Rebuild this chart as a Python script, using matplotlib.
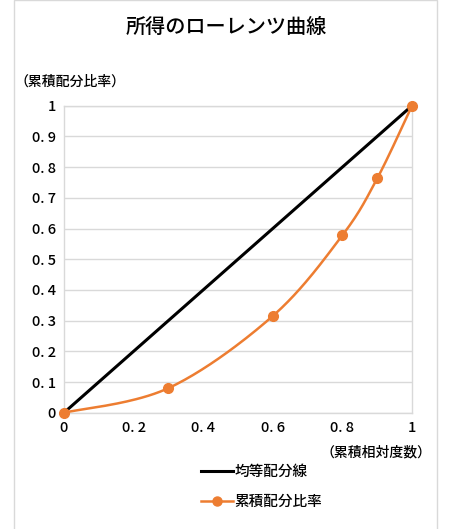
import numpy as np
import matplotlib
matplotlib.use("Agg")
import matplotlib.pyplot as plt
from matplotlib.patches import Rectangle
from matplotlib.lines import Line2D

plt.rcParams['font.family'] = ['Noto Sans CJK JP', 'DejaVu Sans']
plt.rcParams['font.weight'] = 'medium'

# data
cum_freq = [0, 0.3, 0.6, 0.8, 0.9, 1]
cum_share = [0, 0.08, 0.315, 0.578, 0.763, 1]
equal_x = [0, 1]
equal_y = [0, 1]
xticks = [0, 0.2, 0.4, 0.6, 0.8, 1]
xtick_labels = ["0", "0. 2", "0. 4", "0. 6", "0. 8", "1"]
yticks = [0, 0.1, 0.2, 0.3, 0.4, 0.5, 0.6, 0.7, 0.8, 0.9, 1]
ytick_labels = ["0", "0. 1", "0. 2", "0. 3", "0. 4", "0. 5", "0. 6", "0. 7", "0. 8", "0. 9", "1"]


def smooth(xs, ys, n=40):
    # Excel-like smoothed line: Catmull-Rom bezier through the points
    xs = np.asarray(xs, float)
    ys = np.asarray(ys, float)
    px = np.concatenate([[xs[0]], xs, [xs[-1]]])
    py = np.concatenate([[ys[0]], ys, [ys[-1]]])
    outx, outy = [], []
    t = np.linspace(0, 1, n)
    for i in range(1, len(px) - 2):
        p0 = np.array([px[i], py[i]])
        p3 = np.array([px[i + 1], py[i + 1]])
        p1 = p0 + (np.array([px[i + 1], py[i + 1]]) - np.array([px[i - 1], py[i - 1]])) / 6
        p2 = p3 - (np.array([px[i + 2], py[i + 2]]) - np.array([px[i], py[i]])) / 6
        b = (((1 - t) ** 3)[:, None] * p0 + (3 * (1 - t) ** 2 * t)[:, None] * p1
             + (3 * (1 - t) * t ** 2)[:, None] * p2 + (t ** 3)[:, None] * p3)
        outx.extend(b[:, 0])
        outy.extend(b[:, 1])
    return outx, outy


orange = "#ED7D31"
grid = "#D9D9D9"

fig = plt.figure(figsize=(4.74, 5.29), dpi=100)
fig.patches.append(Rectangle((14 / 474, -0.01), (437 - 14) / 474, 1.0095,
                             transform=fig.transFigure, fill=False,
                             edgecolor="#D9D9D9", linewidth=1))

ax = fig.add_axes([64 / 474, 1 - 412.7 / 529, (412 - 64) / 474, (412.7 - 105.7) / 529])
ax.set_xlim(0, 1)
ax.set_ylim(0, 1)
ax.set_yticks(yticks)
ax.set_yticklabels(ytick_labels)
ax.set_xticks(xticks)
ax.set_xticklabels(xtick_labels)
ax.tick_params(length=0, labelsize=10.5, colors="#000000", pad=6)
ax.grid(axis="y", color=grid, linewidth=1)
ax.set_axisbelow(True)
for s in ax.spines.values():
    s.set_color(grid)
    s.set_linewidth(1)

ax.plot(equal_x, equal_y, color="black", linewidth=2.2, solid_capstyle="butt", zorder=3)
sx, sy = smooth(cum_freq, cum_share)
ax.plot(sx, sy, color=orange, linewidth=1.8, zorder=4)
ax.plot(cum_freq, cum_share, "o", color=orange, markersize=7, zorder=5, clip_on=False)

fig.text(226 / 474, 1 - 27 / 529, "所得のローレンツ曲線", ha="center", va="center", fontsize=14.5)
fig.text(14 / 474, 1 - 82 / 529, "（累積配分比率）", ha="left", va="center", fontsize=10)
fig.text(432 / 474, 1 - 452 / 529, "（累積相対度数）", ha="right", va="center", fontsize=10)

handles = [Line2D([], [], color="black", linewidth=2.2),
           Line2D([], [], color=orange, linewidth=1.8, marker="o", markersize=6.5)]
fig.legend(handles, ["均等配分線", "累積配分比率"], loc="upper left",
           bbox_to_anchor=(188 / 474, 1 - 452 / 529), frameon=False,
           fontsize=10.5, handlelength=2.2, handletextpad=0.1, labelspacing=1.1)

fig.savefig("out.png", dpi=100)
